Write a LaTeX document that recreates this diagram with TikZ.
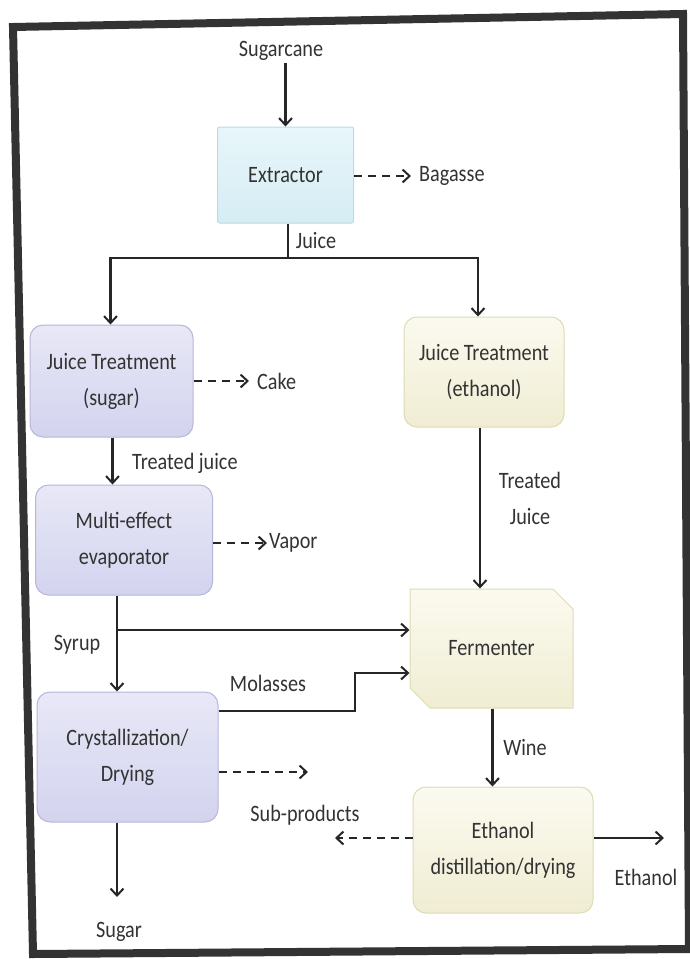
\documentclass[tikz,border=0pt]{standalone}
\usepackage{fontspec}
\setmainfont{Carlito}[FakeStretch=0.86]
\usetikzlibrary{arrows.meta,shapes.misc,positioning}

\definecolor{inkgray}{HTML}{333333}
\definecolor{lavtop}{HTML}{E8E8F7}
\definecolor{lavbot}{HTML}{D3D3EF}
\definecolor{lavline}{HTML}{B6B6DA}
\definecolor{yeltop}{HTML}{FBFAEF}
\definecolor{yelbot}{HTML}{F0EDD3}
\definecolor{yelline}{HTML}{DEDAB6}
\definecolor{cyantop}{HTML}{E8F6FA}
\definecolor{cyanbot}{HTML}{D5EDF4}
\definecolor{cyanline}{HTML}{B8DCE8}

\begin{document}
\begin{tikzpicture}[x=1pt,y=-1pt,
        every node/.style={align=center,text=inkgray,font=\fontsize{23.5}{36}\selectfont},
        lbl/.style={inner sep=2pt},
        procbox/.style={shape=rectangle,draw,line width=1pt,rounded corners=13pt,inner sep=4pt},
        lavbox/.style={procbox,draw=lavline,top color=lavtop,bottom color=lavbot},
        yelbox/.style={procbox,draw=yelline,top color=yeltop,bottom color=yelbot},
        cyanbox/.style={procbox,rounded corners=2pt,draw=cyanline,top color=cyantop,bottom color=cyanbot},
        flow/.style={draw=black!85,line width=2.2pt,-{Straight Barb[length=7pt,width=13pt,line width=2pt]}},
        side/.style={flow,dash pattern=on 8pt off 6pt},
        ]

\useasboundingbox (0,0) rectangle (689,959);
% frame, a bit skewed as in the scan
\draw[line width=8pt,draw=black!80,line join=miter] (13,27) -- (683,14) -- (689,949) -- (33,954) -- cycle;

% process boxes
\node [cyanbox, minimum width=136pt, minimum height=96pt] (extr) at (285.5,175) {Extractor};
\node [lavbox, minimum width=163pt, minimum height=112pt] (jts) at (111.5,381) {Juice Treatment\\(sugar)};
\node [yelbox, minimum width=160pt, minimum height=110pt] (jte) at (484,372) {Juice Treatment\\(ethanol)};
\node [lavbox, minimum width=177pt, minimum height=110pt] (mee) at (124,540) {Multi-effect\\evaporator};
\node [lavbox, minimum width=181pt, minimum height=130pt] (cry) at (127.5,757) {Crystallization/\\Drying};
\node [yelbox, rounded corners=0pt, chamfered rectangle, chamfered rectangle corners={north east,south west},
       chamfered rectangle xsep=10pt, chamfered rectangle ysep=10pt,
       minimum width=163pt, minimum height=119pt] (ferm) at (491.5,648.5) {Fermenter};
\node [yelbox, minimum width=180pt, minimum height=126pt] (dist) at (503,850) {Ethanol\\distillation/drying};

% stream labels
\node [lbl] (cane) at (281,51) {Sugarcane};
\node [lbl, anchor=west] (bag) at (417,176) {Bagasse};
\node [lbl, anchor=west] (cake) at (255,381) {Cake};
\node [lbl] (juice) at (316,240) {Juice};
\node [lbl, anchor=west] (tjs) at (130,463) {Treated juice};
\node [lbl, anchor=west] (vap) at (267,543) {Vapor};
\node [lbl] (tje) at (530,498) {Treated\\Juice};
\node [lbl] (syr) at (77,645) {Syrup};
\node [lbl] (mol) at (268,683) {Molasses};
\node [lbl] (subp) at (305,815) {Sub-products};
\node [lbl] (wine) at (525,747) {Wine};
\node [lbl] (etoh) at (646,877) {Ethanol};
\node [lbl] (sug) at (119,932) {Sugar};

% junctions and loose ends
\coordinate (jsplit) at (288,258);
\coordinate (syrup) at (117,630);
\coordinate (molbend) at (355,711);
\coordinate (subout) at (308,772);
\coordinate (subin) at (335,838);
\coordinate (ethout) at (664,838);
\coordinate (sugend) at (117,897);

% main streams
\draw[flow] (cane.south -| extr.north) -- (extr.north);
\draw[flow,-] (extr.south -| jsplit) -- (jsplit);
\draw[flow] (jsplit) -| ([xshift=-1pt]jts.north);
\draw[flow] (jsplit) -| ([xshift=-6pt]jte.north);
\draw[flow] ([xshift=1pt]jts.south) -- ([xshift=1pt]jts.south |- mee.north);
\draw[flow] (syrup |- mee.south) -- (syrup |- cry.north);
\draw[flow] (syrup) -- (syrup -| ferm.west);
\draw[flow] ([yshift=46pt]cry.east) -- (molbend) |- ([yshift=-24.5pt]ferm.west);
\draw[flow] ([xshift=-4pt]jte.south) -- ([xshift=-4pt]jte.south |- ferm.north);
\draw[flow] ([xshift=1pt]ferm.south) -- ([xshift=1pt]ferm.south |- dist.north);
\draw[flow] (dist.east |- ethout) -- (ethout);
\draw[flow] (syrup |- cry.south) -- (sugend);

% side streams
\draw[side,shorten >=6pt] (extr.east |- bag) -- (bag.west);
\draw[side,shorten >=6pt] (jts.east) -- (cake.west);
\draw[side] (mee.east |- vap) -- (vap.west);
\draw[side] ([yshift=-15pt]cry.east) -- (subout);
\draw[side] (dist.west |- subin) -- (subin);

\end{tikzpicture}
\end{document}
